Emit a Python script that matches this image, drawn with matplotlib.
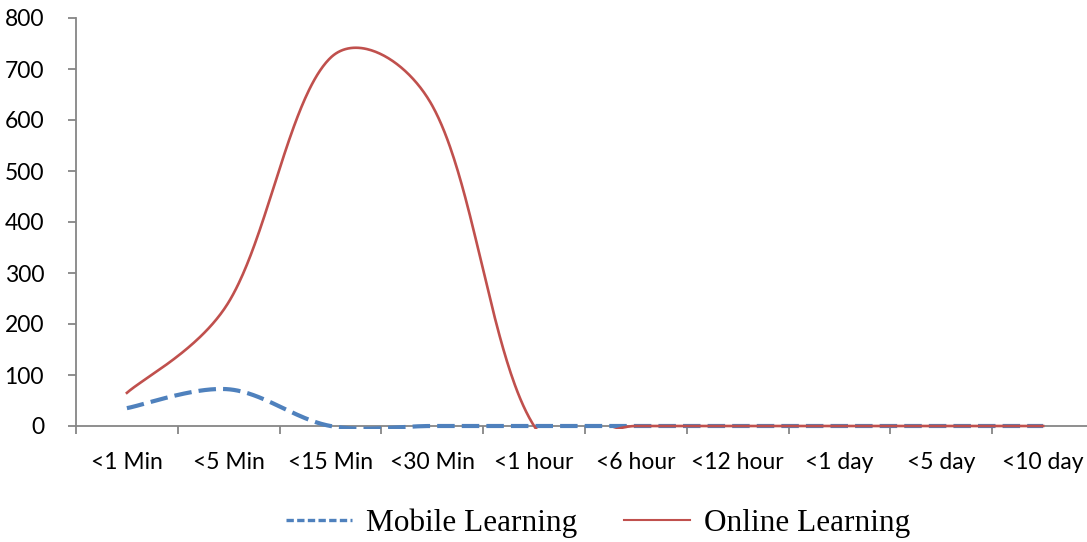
import numpy as np
import matplotlib
matplotlib.use("Agg")
import matplotlib.pyplot as plt
from matplotlib.lines import Line2D
from matplotlib.patches import Rectangle

categories = ["<1 Min", "<5 Min", "<15 Min", "<30 Min", "<1 hour",
              "<6 hour", "<12 hour", "<1 day", "<5 day", "<10 day"]
mobile = [35, 72, 0, 0, 0, 0, 0, 0, 0, 0]
online = [65, 243, 722, 628, 0, 0, 0, 0, 0, 0]
y_ticks = [0, 100, 200, 300, 400, 500, 600, 700, 800]

BLUE = "#4F81BD"
RED = "#C0504D"
GREY = "#868686"

W, H = 1087, 542
X0, X1 = 76, 1094
Y0, Y1 = 426, 18
PX_PER_CAT = (X1 - X0) / len(categories)
PX_PER_VAL = (Y0 - Y1) / 800.0
CHORD_WEIGHT = 0.5


def smooth(vals, n=80):
    """Excel-like smoothed line: cubic Bezier segments with control points
    partly chord-length weighted (computed in screen space)."""
    y = np.asarray(vals, dtype=float)
    P = np.column_stack([np.arange(len(y)) * PX_PER_CAT, y * PX_PER_VAL])
    m = len(P)
    out = []

    def fac(d_near, d_far):
        if d_far <= 0:
            return 1 / 6
        r = 2 * d_near / (d_near + d_far)
        return (1 - CHORD_WEIGHT + CHORD_WEIGHT * r) / 6

    for i in range(m - 1):
        pm = P[i - 1] if i > 0 else P[i]
        p0, p1 = P[i], P[i + 1]
        p2 = P[i + 2] if i + 2 < m else P[i + 1]
        d_a = np.linalg.norm(p0 - pm)
        d_b = np.linalg.norm(p1 - p0)
        d_c = np.linalg.norm(p2 - p1)
        c1 = p0 + (p1 - pm) * fac(d_b, d_a)
        c2 = p1 - (p2 - p0) * fac(d_b, d_c)
        t = np.linspace(0, 1, n)[:, None]
        pts = ((1 - t) ** 3) * p0 + 3 * ((1 - t) ** 2) * t * c1 + 3 * (1 - t) * t ** 2 * c2 + t ** 3 * p1
        out.append(pts)
    pts = np.vstack(out)
    return pts[:, 0] / PX_PER_CAT, pts[:, 1] / PX_PER_VAL


fig = plt.figure(figsize=(10.87, 5.42), dpi=100)
ax = fig.add_axes([X0 / W, 1 - Y0 / H, (X1 - X0) / W, (Y0 - Y1) / H])

n = len(categories)
ax.set_xlim(-0.5, n - 0.5)
ax.set_ylim(0, 800)

clip = Rectangle((-0.5, -5), n, 810, transform=ax.transData, visible=False)
ax.add_patch(clip)

xm, ym = smooth(mobile)
lm, = ax.plot(xm, ym, color=BLUE, lw=3.0, dashes=(4.2, 1.7),
              dash_capstyle="butt", zorder=3)
lm.set_clip_path(clip)
xo, yo = smooth(online)
lo, = ax.plot(xo, yo, color=RED, lw=1.9, zorder=4)
lo.set_clip_path(clip)

for s in ["top", "right"]:
    ax.spines[s].set_visible(False)
for s in ["left", "bottom"]:
    ax.spines[s].set_color(GREY)
    ax.spines[s].set_linewidth(1.3)
    ax.spines[s].set_zorder(2)

ax.set_yticks(y_ticks)
ax.tick_params(axis="y", length=6, width=1.3, color=GREY, pad=17,
               labelsize=16.5, labelcolor="black")
ax.set_xticks(np.arange(n + 1) - 0.5)
ax.set_xticklabels([])
ax.tick_params(axis="x", which="major", length=6, width=1.3, color=GREY)
ax.set_xticks(np.arange(n), minor=True)
ax.set_xticklabels(categories, minor=True)
ax.tick_params(axis="x", which="minor", length=0, pad=19, labelsize=16.5, labelcolor="black")
for lab in ax.get_yticklabels() + ax.get_xticklabels(minor=True):
    lab.set_family(["Lato", "DejaVu Sans"])

handles = [Line2D([], [], color=BLUE, lw=2.4, dashes=(2.2, 1.0)),
           Line2D([], [], color=RED, lw=1.5)]
fig.legend(handles, ["Mobile Learning", "Online Learning"], loc="center",
           bbox_to_anchor=(598 / W, 1 - 523 / H), ncol=2, frameon=False,
           prop={"family": "Liberation Serif", "size": 22.5}, handlelength=2.1,
           handletextpad=0.45, columnspacing=1.5, borderpad=0)

fig.savefig("out.png", dpi=100)
